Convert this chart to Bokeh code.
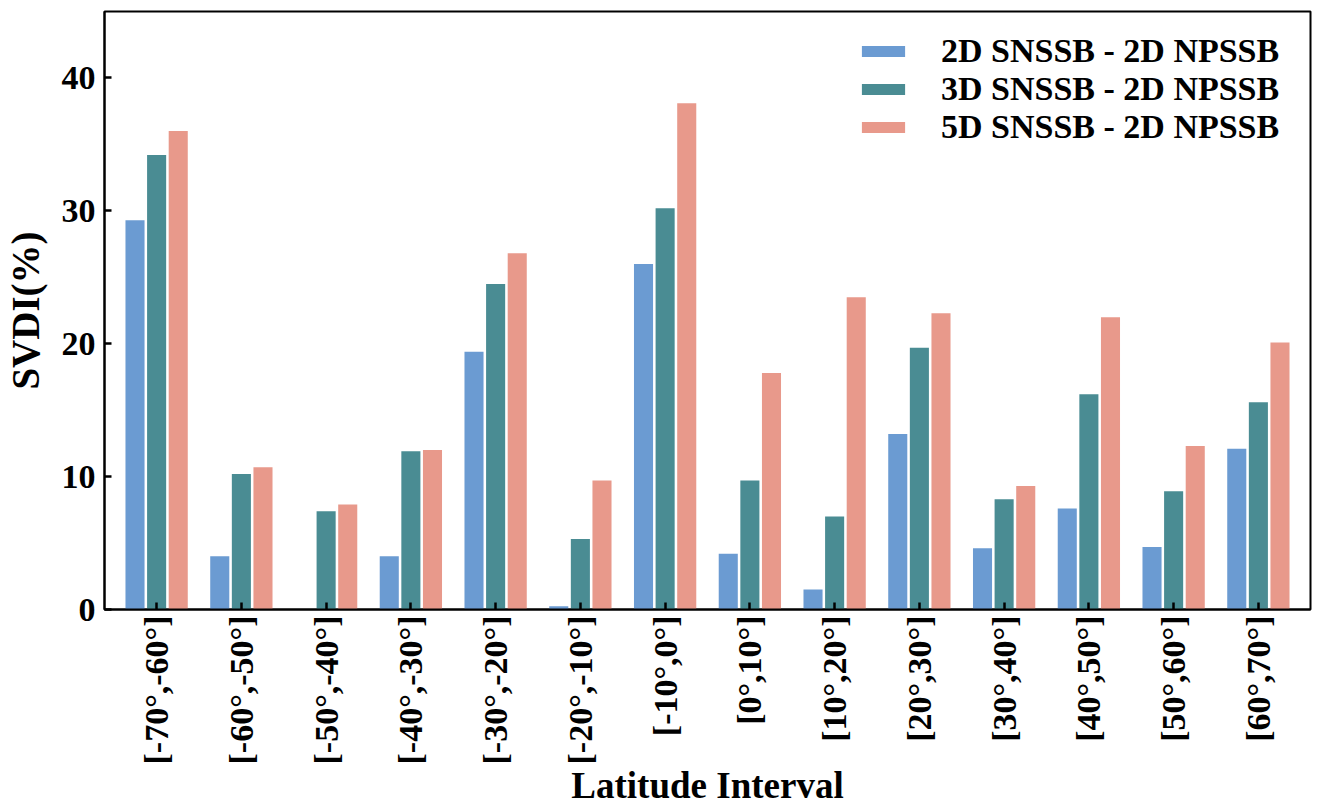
import math
from bokeh.plotting import figure
from bokeh.models import FixedTicker, Range1d, Legend, LegendItem
from bokeh.embed import file_html
from bokeh.resources import INLINE

categories = ["[-70°,-60°]", "[-60°,-50°]", "[-50°,-40°]", "[-40°,-30°]",
              "[-30°,-20°]", "[-20°,-10°]", "[-10°,0°]", "[0°,10°]",
              "[10°,20°]", "[20°,30°]", "[30°,40°]", "[40°,50°]",
              "[50°,60°]", "[60°,70°]"]
svdi_2d = [29.3, 4.0, 0.0, 4.0, 19.4, 0.25, 26.0, 4.2, 1.5, 13.2, 4.6, 7.6, 4.7, 12.1]
svdi_3d = [34.2, 10.2, 7.4, 11.9, 24.5, 5.3, 30.2, 9.7, 7.0, 19.7, 8.3, 16.2, 8.9, 15.6]
svdi_5d = [36.0, 10.7, 7.9, 12.0, 26.8, 9.7, 38.1, 17.8, 23.5, 22.3, 9.3, 22.0, 12.3, 20.1]
series_names = ["2D SNSSB - 2D NPSSB", "3D SNSSB - 2D NPSSB", "5D SNSSB - 2D NPSSB"]
series_colors = ["#6b9bd2", "#4a8c93", "#e8998b"]
y_ticks = [0, 10, 20, 30, 40]
x_title = "Latitude Interval"
y_title = "SVDI(%)"

FONT = "Liberation Serif"

n = len(categories)
p = figure(width=1314, height=811,
           x_range=Range1d(-0.615, n - 1 + 0.615), y_range=Range1d(0, 45),
           output_backend="svg", toolbar_location=None,
           min_border_left=98, min_border_right=4, min_border_top=11, min_border_bottom=202)

offset = 0.255
renderers = []
for k, (vals, col) in enumerate(zip([svdi_2d, svdi_3d, svdi_5d], series_colors)):
    xs = [i + (k - 1) * offset for i in range(n)]
    r = p.vbar(x=xs, top=vals, bottom=0, width=0.225, fill_color=col, line_color=None)
    renderers.append(r)

legend = Legend(items=[LegendItem(label=nm, renderers=[r]) for nm, r in zip(series_names, renderers)],
                location=(752, 463))
legend.border_line_color = None
legend.background_fill_alpha = 0
legend.padding = 0
legend.margin = 0
legend.spacing = 0
legend.glyph_width = 54
legend.glyph_height = 14
legend.label_height = 38
legend.label_standoff = 31
legend.label_text_font = FONT
legend.label_text_font_style = "bold"
legend.label_text_font_size = "34px"
legend.label_text_color = "black"
p.add_layout(legend)

p.xgrid.visible = False
p.ygrid.visible = False
p.outline_line_color = "black"
p.outline_line_width = 2

for ax in (p.xaxis, p.yaxis):
    ax.axis_line_width = 2
    ax.axis_line_color = "black"
    ax.major_tick_in = 7
    ax.major_tick_out = 0
    ax.major_tick_line_width = 2.5
    ax.major_tick_line_color = "black"
    ax.minor_tick_line_color = None
    ax.major_label_text_font = FONT
    ax.major_label_text_font_style = "bold"
    ax.major_label_text_font_size = "34px"
    ax.major_label_text_color = "black"
    ax.axis_label_text_font = FONT
    ax.axis_label_text_font_style = "bold"
    ax.axis_label_text_color = "black"

p.xaxis.ticker = FixedTicker(ticks=list(range(n)))
p.xaxis.major_label_overrides = {i: c for i, c in enumerate(categories)}
p.xaxis.major_label_orientation = math.pi / 2
p.xaxis.major_label_standoff = 6
p.xaxis.axis_label = x_title
p.xaxis.axis_label_text_font_size = "37px"
p.xaxis.axis_label_standoff = -2

p.yaxis.ticker = FixedTicker(ticks=y_ticks)
p.yaxis.major_label_standoff = 9
p.yaxis.axis_label = y_title
p.yaxis.axis_label_text_font_size = "39px"
p.yaxis.axis_label_standoff = 12

open("out.html", "w").write(file_html(p, INLINE))
